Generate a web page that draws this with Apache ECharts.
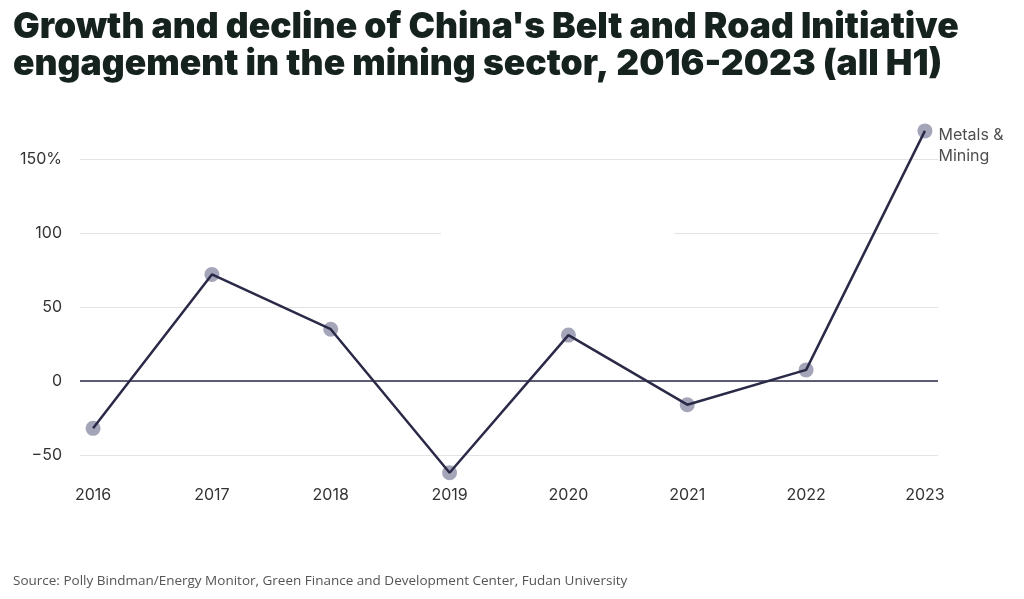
<!DOCTYPE html>
<html><head><meta charset="utf-8">
<script src="https://cdn.jsdelivr.net/npm/echarts@6/dist/echarts.min.js"></script>
<style>html,body{margin:0;padding:0;background:#fff}#c{width:1024px;height:599px}</style>
</head><body><div id="c"></div>
<script>
const years = [2016, 2017, 2018, 2019, 2020, 2021, 2022, 2023];
const growth = [-32, 72, 35, -62, 31, -16, 7.5, 169];
const yTicks = [-50, 0, 50, 100, 150];
const seriesName = 'Metals &\nMining';
const titleText = "Growth and decline of China's Belt and Road Initiative\nengagement in the mining sector, 2016-2023 (all H1)";
const sourceText = 'Source: Polly Bindman/Energy Monitor, Green Finance and Development Center, Fudan University';

const pts = years.map((y, i) => [y, growth[i]]);
const chart = echarts.init(document.getElementById('c'));
chart.setOption({
  animation: false,
  backgroundColor: '#fff',
  title: [
    {text: titleText, left: 8, top: 4,
     textStyle: {fontFamily: 'Inter', fontWeight: 900, fontSize: 35.5, lineHeight: 37, color: '#15221d'}},
    {text: sourceText, left: 8, top: 569,
     textStyle: {fontFamily: 'Open Sans', fontWeight: 'normal', fontSize: 13.5, color: '#555'}}
  ],
  grid: {left: 80, right: 86, top: 159, bottom: 144},
  graphic: [
    {type: 'rect', shape: {x: 441, y: 230, width: 233, height: 6}, style: {fill: '#fff'}, z: 1, silent: true}
  ],
  xAxis: {
    type: 'value', min: 2015.89, max: 2023.11,
    axisLine: {show: false}, axisTick: {show: false}, splitLine: {show: false},
    axisLabel: {customValues: years, margin: 32, fontFamily: 'Inter', fontSize: 16, color: '#333',
      formatter: v => String(v)}
  },
  yAxis: {
    type: 'value', min: yTicks[0], max: yTicks[yTicks.length - 1], interval: 50,
    axisLine: {show: false}, axisTick: {show: false},
    splitLine: {lineStyle: {color: '#e3e3e3', width: 1}},
    axisLabel: {margin: 18, fontFamily: 'Inter', fontSize: 16, color: '#333',
      formatter: v => v === 150 ? '150%' : (v < 0 ? '\u2212' + Math.abs(v) : String(v))}
  },
  series: [
    {type: 'scatter', data: pts, symbolSize: 15, z: 2, clip: false,
     itemStyle: {color: '#8e8ea8'},
     label: {show: true, position: 'right', distance: 6, offset: [0, 15], fontFamily: 'Inter', fontSize: 16, lineHeight: 21, color: '#222',
       formatter: p => p.dataIndex === years.length - 1 ? seriesName : ''}},
    {type: 'line', data: pts, showSymbol: false, symbol: 'none', z: 3, clip: false,
     lineStyle: {color: '#2a2a48', width: 2.5},
     markLine: {silent: true, symbol: 'none', label: {show: false},
       lineStyle: {color: '#2a2a48', width: 1.5, type: 'solid'}, data: [{yAxis: 0}]}}
  ]
});
</script></body></html>
